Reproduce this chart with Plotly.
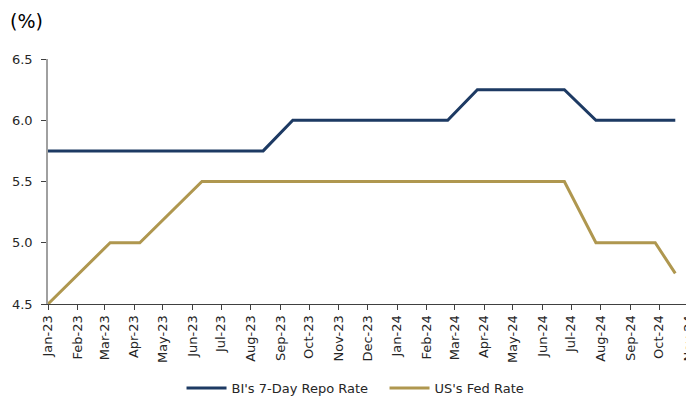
import plotly.graph_objects as go

dates = [
    "2023-01-01", "2023-02-02", "2023-03-07", "2023-04-07", "2023-05-10",
    "2023-06-11", "2023-07-13", "2023-08-14", "2023-09-14", "2023-10-17",
    "2023-11-18", "2023-12-20", "2024-01-21", "2024-02-23", "2024-03-25",
    "2024-04-26", "2024-05-27", "2024-06-24", "2024-07-27", "2024-08-27",
    "2024-09-27", "2024-10-18",
]
bi_rate = [5.75, 5.75, 5.75, 5.75, 5.75, 5.75, 5.75, 5.75, 6.0, 6.0, 6.0,
           6.0, 6.0, 6.0, 6.25, 6.25, 6.25, 6.25, 6.0, 6.0, 6.0, 6.0]
fed_rate = [4.5, 4.75, 5.0, 5.0, 5.25, 5.5, 5.5, 5.5, 5.5, 5.5, 5.5,
            5.5, 5.5, 5.5, 5.5, 5.5, 5.5, 5.5, 5.0, 5.0, 5.0, 4.75]
y_ticks = [4.5, 5.0, 5.5, 6.0, 6.5]
y_labels = ["4.5", "5.0", "5.5", "6.0", "6.5"]

NAVY = "#1D3A63"
GOLD = "#AF974F"
FONT = "DejaVu Sans"

fig = go.Figure()
fig.add_trace(go.Scatter(x=dates, y=bi_rate, mode="lines", name="BI's 7-Day Repo Rate",
                         line=dict(color=NAVY, width=3)))
fig.add_trace(go.Scatter(x=dates, y=fed_rate, mode="lines", name="US's Fed Rate",
                         line=dict(color=GOLD, width=3)))

# the page body adds an 8px margin, so the figure is 8px smaller on each side
fig.update_layout(
    width=686, height=393,
    margin=dict(l=40, r=5, t=51, b=97, autoexpand=False),
    paper_bgcolor="white", plot_bgcolor="white",
    font=dict(family=FONT, size=13, color="#262626"),
    showlegend=True,
    legend=dict(orientation="h", x=0.525, xanchor="center",
                yref="container", y=0.033, yanchor="middle",
                font=dict(family=FONT, size=13, color="#262626"), itemwidth=40,
                entrywidth=148, traceorder="normal"),
    xaxis=dict(
        type="date", range=["2023-01-01", "2024-11-01 08:00"], automargin=False,
        dtick="M1", tick0="2023-01-01", tickformat="%b-%y", tickangle=-90,
        ticklabeloverflow="allow",
        showgrid=False, zeroline=False,
        showline=True, linecolor="#404040", linewidth=1,
        ticks="outside", ticklen=5, tickcolor="#404040",
        tickfont=dict(family=FONT, size=13, color="#262626"),
    ),
    yaxis=dict(
        range=[4.5, 6.5], tickvals=y_ticks, ticktext=y_labels, automargin=False,
        showgrid=False, zeroline=False,
        showline=True, linecolor="#A0A0A0", linewidth=1.5,
        ticks="outside", ticklen=5, tickcolor="#404040", ticklabelstandoff=6,
        tickfont=dict(family=FONT, size=13, color="#262626"),
    ),
    annotations=[dict(text="(%)", xref="paper", yref="paper", x=-0.062, y=1.155,
                      xanchor="left", yanchor="middle", showarrow=False,
                      font=dict(family=FONT, size=19, color="#000000"))],
)

fig.write_html("out.html")
